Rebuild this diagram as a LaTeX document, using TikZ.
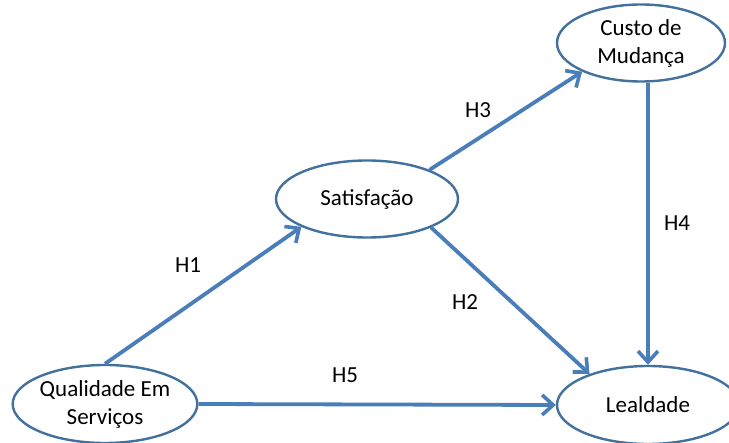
\documentclass[tikz,border=0pt]{standalone}
\usepackage{fontspec}
\setmainfont{Carlito}
\usetikzlibrary{arrows.meta,shapes.geometric}
\definecolor{rimblue}{HTML}{41719C}
\definecolor{linkblue}{HTML}{4A7EBB}
\tikzset{
  construct/.style={ellipse, draw=rimblue, line width=2.4pt, fill=white,
    inner sep=0pt, align=center, font=\fontsize{23}{28}\selectfont},
  link/.style={draw=linkblue, line width=3.8pt,
    -{Straight Barb[length=11pt,width=20pt,line width=3.6pt]}},
  hyp/.style={font=\fontsize{23}{28}\selectfont, inner sep=0pt}
}
\begin{document}
\begin{tikzpicture}[x=1pt,y=-1pt]
\useasboundingbox (0,0) rectangle (729,443);

% constructs
\node[construct, minimum width=168pt, minimum height=77pt] (custo) at (641,43) {Custo de\\Mudança};
\node[construct, minimum width=182pt, minimum height=77pt] (sat) at (367,199) {Satisfação};
\node[construct, minimum width=184pt, minimum height=78pt] (qual) at (105,404) {Qualidade Em\\Serviços};
\node[construct, minimum width=182pt, minimum height=78pt] (leal) at (648,405) {Lealdade};

% hypothesised paths
\draw[link] (qual.north) -- (sat.203);
\draw[link] (sat.25) -- (custo.206);
\draw[link] (sat.336) -- (leal.152);
\draw[link] (leal.north |- custo.south) -- (leal.north);
\draw[link] (qual.east) -- (leal.west);

% path labels
\node[hyp] (h1) at (188,265) {H1};
\node[hyp] (h2) at (465,302) {H2};
\node[hyp] (h3) at (478,110) {H3};
\node[hyp] (h4) at (677,223) {H4};
\node[hyp] (h5) at (345,375) {H5};
\end{tikzpicture}
\end{document}
